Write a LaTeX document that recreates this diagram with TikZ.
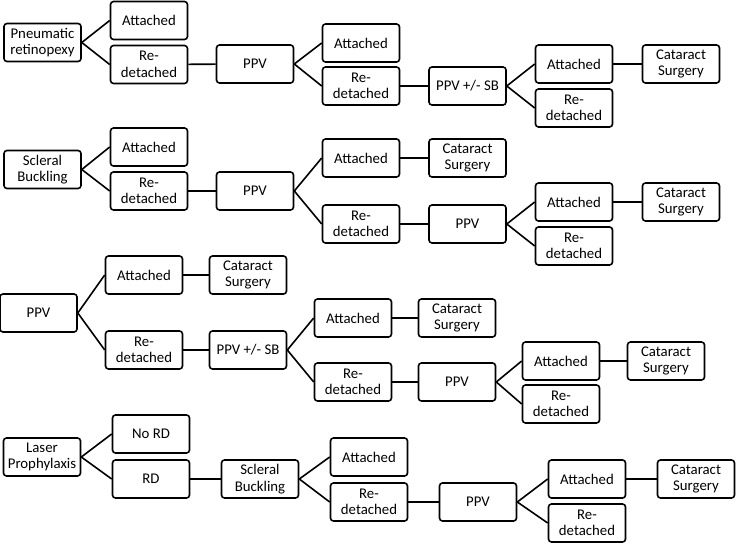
\documentclass[tikz,border=0pt]{standalone}
\usepackage{fontspec}
\setmainfont{Carlito}
\usepackage{tikz}

\begin{document}
\begin{tikzpicture}[x=1pt, y=-1pt, line width=1.6pt,
    box/.style={draw, rounded corners=3pt, minimum width=77pt, minimum height=38pt,
        inner sep=1pt, align=center, font=\fontsize{14.8}{16.5}\selectfont}]
    \useasboundingbox (0,0) rectangle (739,548);

    % Pneumatic retinopexy branch
    \node[box] (pr) at (42.5,42.5) {Pneumatic\\retinopexy};
    \node[box] (pr-a) at (149,20.5) {Attached};
    \node[box] (pr-r) at (149,64.5) {Re-\\detached};
    \node[box] (pr-ppv) at (255,64) {PPV};
    \node[box] (pr-ppv-a) at (361,43) {Attached};
    \node[box] (pr-ppv-r) at (361,86) {Re-\\detached};
    \node[box] (pr-sb) at (467.5,86) {PPV +/- SB};
    \node[box] (pr-sb-a) at (574,64) {Attached};
    \node[box] (pr-cat) at (681,64) {Cataract\\Surgery};
    \node[box] (pr-sb-r) at (574,108) {Re-\\detached};

    \draw (pr.east) -- (pr-a.west);
    \draw (pr.east) -- (pr-r.west);
    \draw (pr-r) -- (pr-ppv);
    \draw (pr-ppv.east) -- (pr-ppv-a.west);
    \draw (pr-ppv.east) -- (pr-ppv-r.west);
    \draw (pr-ppv-r) -- (pr-sb);
    \draw (pr-sb.east) -- (pr-sb-a.west);
    \draw (pr-sb.east) -- (pr-sb-r.west);
    \draw (pr-sb-a) -- (pr-cat);

    % Scleral buckling branch
    \node[box] (sb) at (42.5,169.5) {Scleral\\Buckling};
    \node[box] (sb-a) at (149,147) {Attached};
    \node[box] (sb-r) at (149,191) {Re-\\detached};
    \node[box] (sb-ppv) at (255,191) {PPV};
    \node[box] (sb-ppv-a) at (361,158) {Attached};
    \node[box] (sb-ppv-cat) at (467.5,158) {Cataract\\Surgery};
    \node[box] (sb-ppv-r) at (361,224) {Re-\\detached};
    \node[box] (sb-ppv2) at (467.5,224) {PPV};
    \node[box] (sb-ppv2-a) at (574,202) {Attached};
    \node[box] (sb-ppv2-cat) at (681,202) {Cataract\\Surgery};
    \node[box] (sb-ppv2-r) at (574,246) {Re-\\detached};

    \draw (sb.east) -- (sb-a.west);
    \draw (sb.east) -- (sb-r.west);
    \draw (sb-r) -- (sb-ppv);
    \draw (sb-ppv.east) -- (sb-ppv-a.west);
    \draw (sb-ppv.east) -- (sb-ppv-r.west);
    \draw (sb-ppv-a) -- (sb-ppv-cat);
    \draw (sb-ppv-r) -- (sb-ppv2);
    \draw (sb-ppv2.east) -- (sb-ppv2-a.west);
    \draw (sb-ppv2.east) -- (sb-ppv2-r.west);
    \draw (sb-ppv2-a) -- (sb-ppv2-cat);

    % PPV branch
    \node[box] (pv) at (38.5,313) {PPV};
    \node[box] (pv-a) at (144,275) {Attached};
    \node[box] (pv-cat) at (248,275) {Cataract\\Surgery};
    \node[box] (pv-r) at (144,350) {Re-\\detached};
    \node[box] (pv-sb) at (248,350) {PPV +/- SB};
    \node[box] (pv-sb-a) at (353,318) {Attached};
    \node[box] (pv-sb-cat) at (457,318) {Cataract\\Surgery};
    \node[box] (pv-sb-r) at (353,382) {Re-\\detached};
    \node[box] (pv-ppv) at (457,382) {PPV};
    \node[box] (pv-ppv-a) at (561,361) {Attached};
    \node[box] (pv-ppv-cat) at (666,361) {Cataract\\Surgery};
    \node[box] (pv-ppv-r) at (561,404) {Re-\\detached};

    \draw (pv.east) -- (pv-a.west);
    \draw (pv.east) -- (pv-r.west);
    \draw (pv-a) -- (pv-cat);
    \draw (pv-r) -- (pv-sb);
    \draw (pv-sb.east) -- (pv-sb-a.west);
    \draw (pv-sb.east) -- (pv-sb-r.west);
    \draw (pv-sb-a) -- (pv-sb-cat);
    \draw (pv-sb-r) -- (pv-ppv);
    \draw (pv-ppv.east) -- (pv-ppv-a.west);
    \draw (pv-ppv.east) -- (pv-ppv-r.west);
    \draw (pv-ppv-a) -- (pv-ppv-cat);

    % Laser prophylaxis branch
    \node[box] (lp) at (42,457) {Laser\\Prophylaxis};
    \node[box] (lp-no) at (151,434) {No RD};
    \node[box] (lp-rd) at (151,479) {RD};
    \node[box] (lp-sb) at (260,479) {Scleral\\Buckling};
    \node[box] (lp-sb-a) at (369,457) {Attached};
    \node[box] (lp-sb-r) at (369,502) {Re-\\detached};
    \node[box] (lp-ppv) at (478,502) {PPV};
    \node[box] (lp-ppv-a) at (587,479) {Attached};
    \node[box] (lp-ppv-cat) at (696,479) {Cataract\\Surgery};
    \node[box] (lp-ppv-r) at (587,523) {Re-\\detached};

    \draw (lp.east) -- (lp-no.west);
    \draw (lp.east) -- (lp-rd.west);
    \draw (lp-rd) -- (lp-sb);
    \draw (lp-sb.east) -- (lp-sb-a.west);
    \draw (lp-sb.east) -- (lp-sb-r.west);
    \draw (lp-sb-r) -- (lp-ppv);
    \draw (lp-ppv.east) -- (lp-ppv-a.west);
    \draw (lp-ppv.east) -- (lp-ppv-r.west);
    \draw (lp-ppv-a) -- (lp-ppv-cat);
\end{tikzpicture}
\end{document}
